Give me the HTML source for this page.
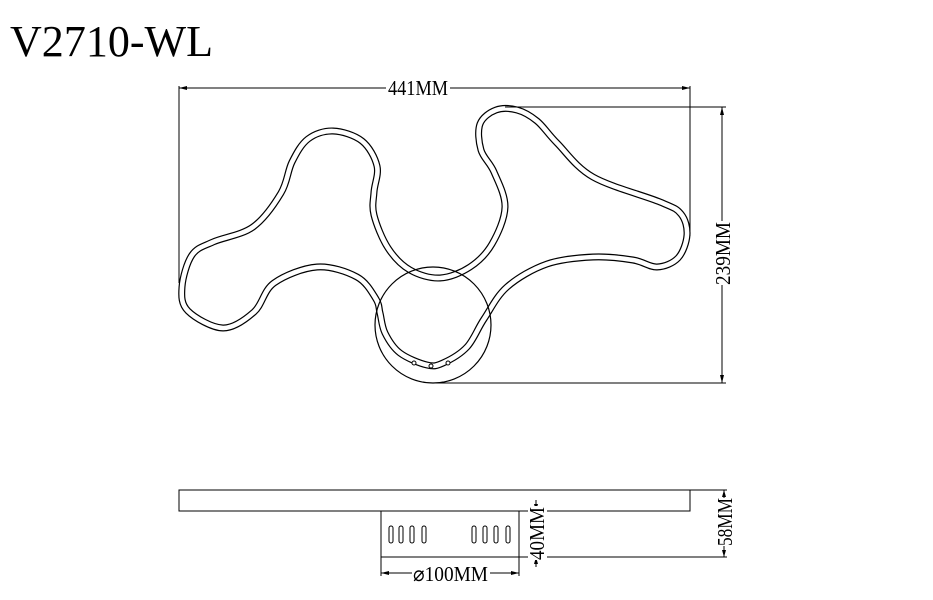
<!DOCTYPE html>
<html><head><meta charset="utf-8"><style>html,body{margin:0;padding:0;background:#fff}svg{display:block}</style></head>
<body>
<svg id="s" width="933" height="600" viewBox="0 0 933 600" xmlns="http://www.w3.org/2000/svg">
<rect width="933" height="600" fill="#fff"/>
<text x="10" y="56" font-family="Liberation Serif, serif" font-size="44" textLength="203" lengthAdjust="spacingAndGlyphs">V2710-WL</text>
<path id="outer" d="" fill="none" stroke="#000" stroke-width="7" stroke-linejoin="round"/>
<path id="inner" d="" fill="none" stroke="#fff" stroke-width="4.6" stroke-linejoin="round"/>
<circle cx="433" cy="325" r="58" fill="none" stroke="#000" stroke-width="1.2"/>
<g fill="#fff" stroke="#000" stroke-width="1"><circle cx="414" cy="363" r="2"/><circle cx="431" cy="366" r="2"/><circle cx="448" cy="363" r="2"/></g>
<g stroke="#000" stroke-width="1" fill="none">
<line x1="179" y1="86" x2="179" y2="283"/><line x1="690" y1="86" x2="690" y2="236"/>
<line x1="179" y1="88" x2="690" y2="88"/>
<line x1="505" y1="107" x2="726" y2="107"/><line x1="434" y1="383" x2="726" y2="383"/>
<line x1="722" y1="107" x2="722" y2="383"/>
<rect x="179" y="490" width="511" height="21"/>
<rect x="381" y="511" width="138" height="46"/>
<line x1="381" y1="557" x2="381" y2="576"/><line x1="519" y1="557" x2="519" y2="576"/>
<line x1="381" y1="573" x2="519" y2="573"/>
<line x1="536" y1="500" x2="536" y2="567"/>
<line x1="519" y1="557" x2="727" y2="557"/>
<line x1="690" y1="490" x2="727" y2="490"/>
<line x1="724" y1="490" x2="724" y2="557"/>
</g>
<g fill="#000">
<path d="M179 88 l8 -2 v4z"/><path d="M690 88 l-8 -2 v4z"/>
<path d="M722 107 l-2 8 h4z"/><path d="M722 383 l-2 -8 h4z"/>
<path d="M381 573 l8 -2 v4z"/><path d="M519 573 l-8 -2 v4z"/>
<path d="M536 511 l-2 -7 h4z"/><path d="M536 557 l-2 7 h4z"/>
<path d="M724 490 l-2 7 h4z"/><path d="M724 557 l-2 -7 h4z"/>
</g>
<g fill="none" stroke="#000" stroke-width="1">
<rect x="389" y="526" width="4" height="17" rx="2"/><rect x="399" y="526" width="4" height="17" rx="2"/><rect x="410" y="526" width="4" height="17" rx="2"/><rect x="422" y="526" width="4" height="17" rx="2"/>
<rect x="472" y="526" width="4" height="17" rx="2"/><rect x="483" y="526" width="4" height="17" rx="2"/><rect x="494" y="526" width="4" height="17" rx="2"/><rect x="506" y="526" width="4" height="17" rx="2"/>
</g>
<g font-family="Liberation Serif, serif" font-size="21" fill="#000">
<rect x="386" y="78" width="64" height="20" fill="#fff"/>
<text x="388" y="95" textLength="60" lengthAdjust="spacingAndGlyphs">441MM</text>
<rect x="412" y="565" width="78" height="20" fill="#fff"/>
<text x="413" y="581" textLength="75" lengthAdjust="spacingAndGlyphs">⌀100MM</text>
<g transform="translate(730,285) rotate(-90)"><rect x="0" y="-16" width="64" height="20" fill="#fff"/><text x="0" y="0" textLength="63" lengthAdjust="spacingAndGlyphs">239MM</text></g>
<g transform="translate(544,560) rotate(-90)"><rect x="0" y="-16" width="54" height="19" fill="#fff"/><text x="0" y="0" textLength="53" lengthAdjust="spacingAndGlyphs">40MM</text></g>
<g transform="translate(732,546) rotate(-90)"><rect x="0" y="-16" width="48" height="19" fill="#fff"/><text x="0" y="0" textLength="48" lengthAdjust="spacingAndGlyphs">58MM</text></g>
</g>
</svg>
<script>
var P=[[182,287],[192,255],[213,242],[253,227],[281,193],[292,162],[308,139],[333,131],[362,141],[377,166],[374,192],[374,215],[388,248],[410,270],[440,278],[470,267],[492,244],[505,207],[494,172],[481,150],[480,124],[496,110],[517,110],[537,121],[557,143],[593,177],[660,202],[681,214],[687,235],[678,258],[657,267],[633,260],[593,257],[547,264],[507,287],[484,319],[467,347],[443,363],[427,365],[400,353],[385,333],[380,313],[376,299],[357,277],[317,267],[274,283],[254,312],[223,328],[188,311]];
var n=P.length,d="M"+P[0][0]+" "+P[0][1];
for(var i=0;i<n;i++){var p0=P[(i-1+n)%n],p1=P[i],p2=P[(i+1)%n],p3=P[(i+2)%n];
var c1x=p1[0]+(p2[0]-p0[0])/6,c1y=p1[1]+(p2[1]-p0[1])/6,c2x=p2[0]-(p3[0]-p1[0])/6,c2y=p2[1]-(p3[1]-p1[1])/6;
d+=" C"+c1x.toFixed(1)+" "+c1y.toFixed(1)+" "+c2x.toFixed(1)+" "+c2y.toFixed(1)+" "+p2[0]+" "+p2[1];}
d+="Z";
document.getElementById("outer").setAttribute("d",d);
document.getElementById("inner").setAttribute("d",d);
</script>
</body></html>
